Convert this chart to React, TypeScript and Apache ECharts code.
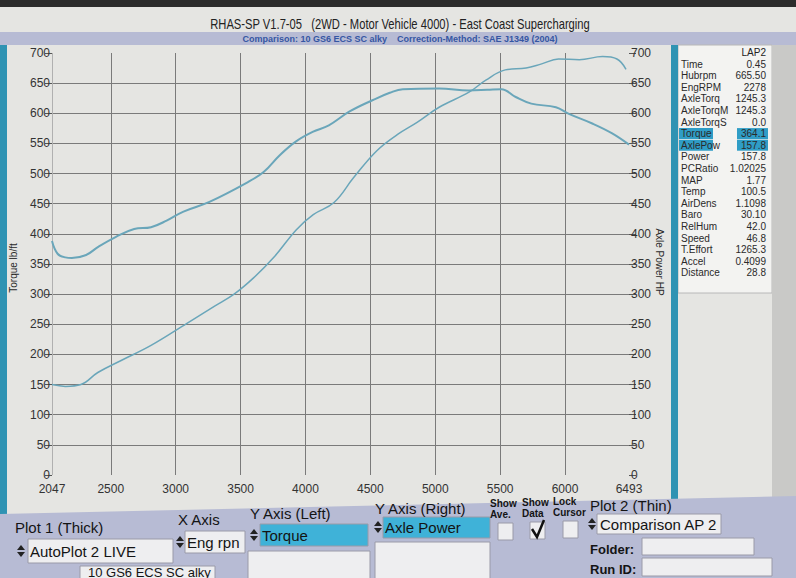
import React, { useEffect, useRef } from "react";
import * as echarts from "echarts";

// ---------- data ----------
const torqueRpm = [2047, 2090, 2150, 2200, 2310, 2400, 2540, 2680, 2810, 2930, 3060, 3260, 3550, 3680, 3800, 3925, 4055, 4180, 4340, 4520, 4650, 4750, 5030, 5260, 5400, 5510, 5620, 5740, 5930, 6030, 6210, 6360, 6493];
const torqueVal = [388, 367, 361, 360, 365, 378, 395, 408, 411, 422, 437, 453, 485, 503, 530, 553, 569, 580, 603, 622, 634, 640, 641, 638, 639, 640, 627, 616, 610, 599, 583, 567, 548];
const powerRpm = [2047, 2150, 2270, 2400, 2580, 2810, 3090, 3300, 3450, 3600, 3760, 3930, 4060, 4220, 4370, 4550, 4710, 4860, 5030, 5260, 5390, 5540, 5700, 5820, 5950, 6110, 6290, 6400, 6470];
const powerVal = [150, 147, 150, 170, 190, 215, 252, 280, 300, 327, 362, 407, 432, 452, 493, 538, 565, 585, 610, 635, 655, 672, 675, 682, 690, 689, 694, 690, 673];
const xTickLabels = [2047, 2500, 3000, 3500, 4000, 4500, 5000, 5500, 6000, 6493];
const xGridLines = [2500, 3000, 3500, 4000, 4500, 5000, 5500, 6000];

const tableLabels = ["Time", "Hubrpm", "EngRPM", "AxleTorq", "AxleTorqM", "AxleTorqS", "Torque", "AxlePow", "Power", "PCRatio", "MAP", "Temp", "AirDens", "Baro", "RelHum", "Speed", "T.Effort", "Accel", "Distance"];
const tableValues = ["0.45", "665.50", "2278", "1245.3", "1245.3", "0.0", "364.1", "157.8", "157.8", "1.02025", "1.77", "100.5", "1.1098", "30.10", "42.0", "46.8", "1265.3", "0.4099", "28.8"];
const highlighted = ["Torque", "AxlePow"];

const FONT = "'Liberation Sans', Arial, sans-serif";
const CURVE = "#6aa6ba";
const TEAL = "#2f93b3";
const LAV = "#b7bbd4";

function spinner(x: number, y: number): any[] {
  return [
    { type: "polygon", z: 20, shape: { points: [[x, y - 1], [x + 4, y - 6], [x + 8, y - 1]] }, style: { fill: "#222" } },
    { type: "polygon", z: 20, shape: { points: [[x, y + 1], [x + 4, y + 6], [x + 8, y + 1]] }, style: { fill: "#222" } },
  ];
}

function buildGraphic(): any[] {
  const g: any[] = [];
  g.push({ type: "rect", z: -5, shape: { x: 0, y: 0, width: 796, height: 7 }, style: { fill: "#2c2c2c" } });
  g.push({ type: "rect", z: -5, shape: { x: 0, y: 32, width: 796, height: 13 }, style: { fill: LAV } });
  g.push({ type: "text", z: 10, x: 400, y: 25, scaleX: 0.8, style: { text: "RHAS-SP V1.7-05   (2WD - Motor Vehicle 4000) - East Coast Supercharging", font: `14px ${FONT}`, fill: "#222", align: "center", verticalAlign: "middle" } });
  g.push({ type: "text", z: 10, x: 400, y: 39, style: { text: "Comparison: 10 GS6 ECS SC alky    Correction-Method: SAE J1349 (2004)", font: `bold 9px ${FONT}`, fill: "#3556a3", align: "center", verticalAlign: "middle" } });
  g.push({ type: "rect", z: -5, shape: { x: 0, y: 45, width: 7, height: 470 }, style: { fill: TEAL } });
  g.push({ type: "rect", z: -5, shape: { x: 678, y: 45, width: 94, height: 248 }, style: { fill: "#f3f3f1", stroke: "#b8b8b8", lineWidth: 1 } });
  g.push({ type: "rect", z: -5, shape: { x: 772, y: 45, width: 24, height: 455 }, style: { fill: "#c9c9c7" } });
  g.push({ type: "rect", z: -4, shape: { x: 671, y: 45, width: 7, height: 455 }, style: { fill: TEAL } });
  g.push({ type: "text", z: 10, x: 766, y: 52, style: { text: "LAP2", font: `10px ${FONT}`, fill: "#222", align: "right", verticalAlign: "middle" } });
  tableLabels.forEach((lab, i) => {
    const y = 64 + i * 11.6;
    if (highlighted.indexOf(lab) >= 0) {
      g.push({ type: "rect", z: 5, shape: { x: 679, y: y - 5.5, width: 34, height: 11 }, style: { fill: "#2f9dc6" } });
      g.push({ type: "rect", z: 5, shape: { x: 737, y: y - 5.5, width: 31, height: 11 }, style: { fill: "#2f9dc6" } });
    }
    g.push({ type: "text", z: 10, x: 681, y, style: { text: lab, font: `10px ${FONT}`, fill: "#2a2a2a", verticalAlign: "middle" } });
    g.push({ type: "text", z: 10, x: 766, y, style: { text: tableValues[i], font: `10px ${FONT}`, fill: "#2a2a2a", align: "right", verticalAlign: "middle" } });
  });
  // bottom control panel
  g.push({ type: "polygon", z: -3, shape: { points: [[0, 514], [796, 496], [796, 578], [0, 578]] }, style: { fill: LAV } });
  const lbl = (t: string, x: number, y: number, size = 15, bold = false) =>
    g.push({ type: "text", z: 10, x, y, style: { text: t, font: `${bold ? "bold " : ""}${size}px ${FONT}`, fill: "#141414", verticalAlign: "middle" } });
  lbl("Plot 1 (Thick)", 15, 527);
  lbl("X Axis", 178, 519);
  lbl("Y Axis (Left)", 250, 513);
  lbl("Y Axis (Right)", 375, 508);
  lbl("Plot 2 (Thin)", 590, 505);
  g.push({ type: "text", z: 10, x: 490, y: 509, style: { text: "Show\nAve.", font: `bold 10px ${FONT}`, fill: "#141414", verticalAlign: "middle", lineHeight: 11 } });
  g.push({ type: "text", z: 10, x: 522, y: 508, style: { text: "Show\nData", font: `bold 10px ${FONT}`, fill: "#141414", verticalAlign: "middle", lineHeight: 11 } });
  g.push({ type: "text", z: 10, x: 553, y: 507, style: { text: "Lock\nCursor", font: `bold 10px ${FONT}`, fill: "#141414", verticalAlign: "middle", lineHeight: 11 } });
  const box = (x: number, y: number, w: number, h: number, fill = "#eeeef0") =>
    g.push({ type: "rect", z: 8, shape: { x, y, width: w, height: h }, style: { fill, stroke: "#9a9aa8", lineWidth: 1 } });
  box(28, 539, 145, 24);
  g.push(...spinner(17, 551));
  lbl("AutoPlot 2 LIVE", 30, 551);
  box(185, 531, 60, 22);
  g.push(...spinner(176, 542));
  lbl("Eng rpn", 187, 542);
  box(260, 524, 108, 22, "#3fb2d8");
  g.push(...spinner(250, 535));
  lbl("Torque", 262, 535);
  box(383, 517, 107, 21, "#3fb2d8");
  g.push(...spinner(374, 527));
  lbl("Axle Power", 385, 527);
  box(498, 523, 15, 17);
  box(530, 522, 15, 17);
  box(563, 521, 15, 17);
  g.push({ type: "polyline", z: 12, shape: { points: [[532, 529], [537, 537], [544, 520]] }, style: { stroke: "#111", lineWidth: 2.5, fill: null } });
  box(597, 514, 124, 20);
  g.push(...spinner(588, 524));
  lbl("Comparison AP 2", 600, 524);
  box(642, 538, 112, 17);
  box(642, 558, 130, 18);
  lbl("Folder:", 590, 549, 13, true);
  lbl("Run ID:", 590, 569, 13, true);
  box(248, 551, 122, 30);
  box(375, 542, 115, 40);
  box(80, 566, 135, 16);
  g.push({ type: "text", z: 10, x: 88, y: 572, style: { text: "10 GS6 ECS SC alky", font: `13px ${FONT}`, fill: "#141414", verticalAlign: "middle" } });
  g.push({ type: "text", z: 10, x: 13, y: 268, rotation: Math.PI / 2, style: { text: "Torque lb/ft", font: `10px ${FONT}`, fill: "#2a2a2a", align: "center", verticalAlign: "middle" } });
  g.push({ type: "text", z: 10, x: 659, y: 262, rotation: -Math.PI / 2, style: { text: "Axle Power HP", font: `10px ${FONT}`, fill: "#2a2a2a", align: "center", verticalAlign: "middle" } });
  return g;
}

export default function App() {
  const ref = useRef<HTMLDivElement>(null);
  useEffect(() => {
    if (!ref.current) return;
    const chart = echarts.init(ref.current, undefined, { renderer: "svg" });
    const yCommon = {
      type: "value",
      min: 0,
      max: 700,
      interval: 50,
      axisLine: { show: false },
      axisLabel: { fontSize: 12, fontFamily: FONT, color: "#333", margin: 2 },
      axisTick: { show: true, length: 7, lineStyle: { color: "#555" } },
    };
    chart.setOption({
      animation: false,
      backgroundColor: "#e5e5e2",
      graphic: buildGraphic(),
      grid: { left: 52, right: 167, top: 53, bottom: 103, containLabel: false },
      xAxis: {
        type: "value",
        min: 2047,
        max: 6493,
        axisLine: { show: false },
        splitLine: { show: false },
        axisTick: { show: false },
        axisLabel: { customValues: xTickLabels, formatter: (v: number) => String(v), fontSize: 12, fontFamily: FONT, color: "#333", margin: 8 },
      },
      yAxis: [
        {
          ...yCommon,
          position: "left",
          splitLine: { show: true, showMinLine: false, showMaxLine: false, lineStyle: { color: "#7a7a7a", width: 1 } },
        },
        {
          ...yCommon,
          position: "right",
          splitLine: { show: false },
        },
      ],
      series: [
        {
          type: "line",
          name: "Torque",
          data: torqueRpm.map((r, i) => [r, torqueVal[i]]),
          yAxisIndex: 0,
          smooth: 0.4,
          showSymbol: false,
          lineStyle: { color: CURVE, width: 2 },
          z: 5,
          markLine: {
            silent: true,
            symbol: "none",
            label: { show: false },
            lineStyle: { color: "#7a7a7a", width: 1, type: "solid" },
            data: [...xGridLines.map((v) => ({ xAxis: v })), { xAxis: 2047, lineStyle: { color: "#b0b0b0", width: 1, type: "solid" } }],
          },
        },
        {
          type: "line",
          name: "Axle Power",
          data: powerRpm.map((r, i) => [r, powerVal[i]]),
          yAxisIndex: 1,
          smooth: 0.4,
          showSymbol: false,
          lineStyle: { color: CURVE, width: 1.5 },
          z: 5,
        },
      ],
    });
    return () => chart.dispose();
  }, []);
  return <div ref={ref} style={{ position: "fixed", left: 0, top: 0, width: 796, height: 578 }} />;
}
